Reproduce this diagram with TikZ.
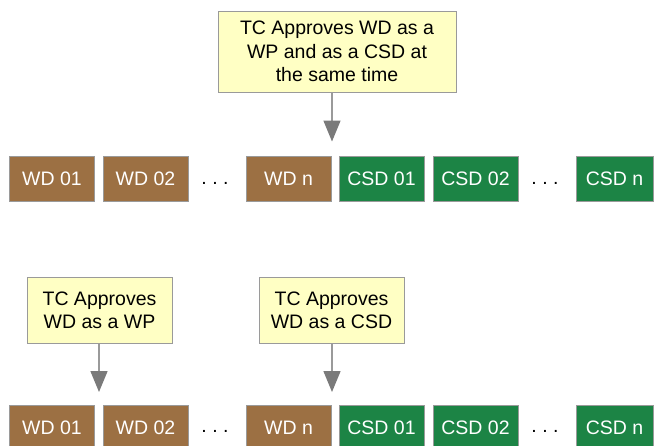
\documentclass[tikz,border=0pt]{standalone}
\usepackage{fontspec}
\setmainfont{Liberation Sans}
\usetikzlibrary{arrows.meta}

\definecolor{wdbrown}{HTML}{9C7043}
\definecolor{csdgreen}{HTML}{1C8445}
\definecolor{notefill}{HTML}{FFFFC4}
\definecolor{edgegray}{HTML}{9A9A9A}
\definecolor{arrowgray}{HTML}{7A7A7A}

\tikzset{
  docbox/.style={draw=edgegray, line width=1pt, text=white, inner sep=0pt,
    minimum width=85pt, minimum height=45pt,
    font=\fontsize{19.5}{23}\selectfont},
  wdbox/.style={docbox, fill=wdbrown},
  csdbox/.style={docbox, fill=csdgreen},
  ellip/.style={inner sep=0pt, font=\fontsize{19.5}{23}\selectfont},
  notebox/.style={draw=edgegray, line width=1pt, fill=notefill, inner sep=0pt,
    align=center, font=\fontsize{19.5}{23.3}\selectfont},
  approve/.style={draw=edgegray, line width=1.5pt,
    -{Triangle[width=17pt,length=21pt,fill=arrowgray,color=arrowgray]}},
}

\begin{document}
\begin{tikzpicture}[x=1pt,y=-1pt]
  \useasboundingbox (0,0) rectangle (654,445);

  % ---- first scheme: one approval for both WP and CSD ----
  \node[notebox, minimum width=238pt, minimum height=81pt] (both) at (337,51.5)
    {TC Approves WD as a\\WP and as a CSD at\\the same time};

  \node[wdbox]  (a1) at (52,179)    {WD 01};
  \node[wdbox]  (a2) at (145.5,179) {WD 02};
  \node[ellip]  (ad) at (215,183)   {.~.~.};
  \node[wdbox]  (an) at (288.5,179) {WD n};
  \node[csdbox] (b1) at (381.5,179) {CSD 01};
  \node[csdbox] (b2) at (475.5,179) {CSD 02};
  \node[ellip]  (bd) at (545,183)   {.~.~.};
  \node[csdbox, minimum width=77pt] (bn) at (614.5,179) {CSD n};

  \coordinate (tip1) at (332,141.5);
  \draw[approve] (both.south -| tip1) -- (tip1);

  % ---- second scheme: separate approvals ----
  \node[notebox, minimum width=145pt, minimum height=66pt] (wp) at (99.5,310)
    {TC Approves\\WD as a WP};
  \node[notebox, minimum width=145pt, minimum height=66pt] (csd) at (331.5,310)
    {TC Approves\\WD as a CSD};

  \node[wdbox]  (c1) at (52,427.5)    {WD 01};
  \node[wdbox]  (c2) at (145.5,427.5) {WD 02};
  \node[ellip]  (cd) at (215,431.5)   {.~.~.};
  \node[wdbox]  (cn) at (288.5,427.5) {WD n};
  \node[csdbox] (d1) at (381.5,427.5) {CSD 01};
  \node[csdbox] (d2) at (475.5,427.5) {CSD 02};
  \node[ellip]  (dd) at (545,431.5)   {.~.~.};
  \node[csdbox, minimum width=77pt] (dn) at (614.5,427.5) {CSD n};

  \coordinate (tip2) at (99,392);
  \coordinate (tip3) at (332,392);
  \draw[approve] (wp.south -| tip2) -- (tip2);
  \draw[approve] (csd.south -| tip3) -- (tip3);
\end{tikzpicture}
\end{document}
